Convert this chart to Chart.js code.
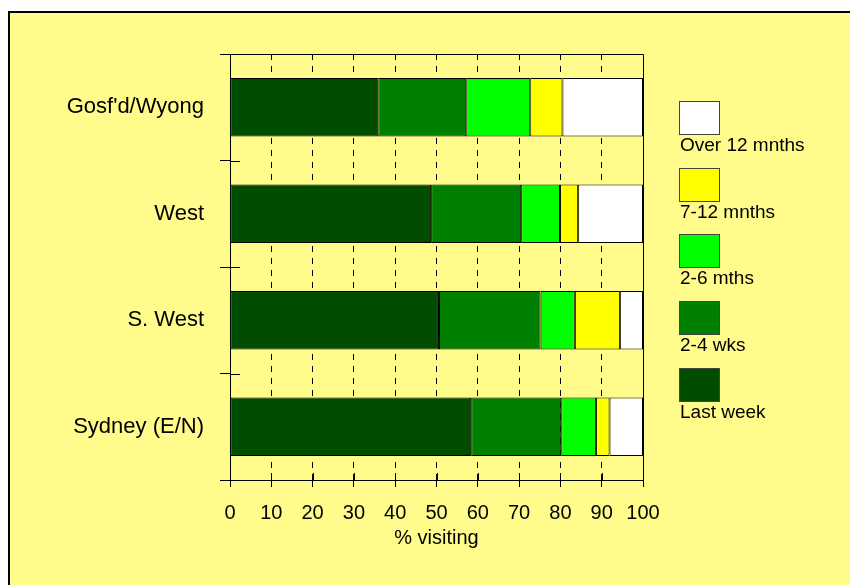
<!DOCTYPE html>
<html>
<head>
<meta charset="utf-8">
<script src="https://cdn.jsdelivr.net/npm/chart.js@4"></script>
<style>
  html, body { margin: 0; padding: 0; background: #fff; overflow: hidden; }
  #frame { position: absolute; left: 8px; top: 11px; width: 900px; height: 700px;
           border: 2px solid #000; background: #fffc8c; }
  #wrap { position: absolute; left: 0; top: 0; width: 850px; height: 585px; }
</style>
</head>
<body>
<div id="frame"></div>
<div id="wrap"><canvas id="chart" width="850" height="585"></canvas></div>
<script>
// data (% of people, stacked to 100)
const categories = ["Gosf'd/Wyong", "West", "S. West", "Sydney (E/N)"]
const seriesNames = ["Last week", "2-4 wks", "2-6 mths", "7-12 mnths", "Over 12 mnths"]
const lastWeek = [35.9, 48.7, 50.6, 58.4]
const twoFourWks = [21.3, 21.8, 24.6, 21.8]
const twoSixMths = [15.5, 9.4, 8.3, 8.4]
const sevenTwelveMnths = [7.8, 4.4, 10.9, 3.3]
const over12Mnths = [19.5, 15.7, 5.6, 8.1]
const xTicks = [0, 10, 20, 30, 40, 50, 60, 70, 80, 90, 100]

const colours = ["#004d00", "#008000", "#00ff00", "#ffff00", "#ffffff"]
const values = [lastWeek, twoFourWks, twoSixMths, sevenTwelveMnths, over12Mnths]
const font = "'Liberation Sans', Arial, sans-serif"

// top/right edge of the plot and the inner half of the crossing ticks
const frameLines = {
  id: "frameLines",
  afterDatasetsDraw(chart) {
    const { ctx, chartArea: a, scales } = chart
    ctx.save()
    ctx.strokeStyle = "#000"
    ctx.lineWidth = 1
    ctx.beginPath()
    const top = Math.round(a.top) + 0.5
    const right = Math.round(scales.x.getPixelForValue(100)) + 0.5
    ctx.moveTo(a.left - 10, top)
    ctx.lineTo(right, top)
    ctx.lineTo(right, a.bottom)
    xTicks.forEach(v => {
      const px = Math.round(scales.x.getPixelForValue(v)) + 0.5
      ctx.moveTo(px, a.bottom)
      ctx.lineTo(px, a.bottom - 7)
    })
    for (let i = 0; i <= categories.length; i++) {
      const py = Math.round(scales.y.getPixelForValue(i - 0.5)) + 0.5
      ctx.moveTo(a.left, py)
      ctx.lineTo(a.left + 10, py)
    }
    ctx.stroke()
    ctx.restore()
  }
}

// legend: box with the label under it, top item = last series
const sideLegend = {
  id: "sideLegend",
  afterDraw(chart) {
    const ctx = chart.ctx
    const sets = chart.data.datasets.slice().reverse()
    ctx.save()
    ctx.font = "19px " + font
    ctx.textAlign = "left"
    ctx.textBaseline = "middle"
    sets.forEach((ds, i) => {
      const top = Math.round(101 + i * 66.7)
      ctx.fillStyle = ds.backgroundColor
      ctx.fillRect(679, top, 40, 33)
      ctx.strokeStyle = "#444"
      ctx.lineWidth = 1
      ctx.strokeRect(679.5, top + 0.5, 40, 33)
      ctx.fillStyle = "#000"
      ctx.fillText(ds.label, 680, top + 45)
    })
    ctx.restore()
  }
}

const datasets = seriesNames.map((name, i) => ({
  label: name,
  data: values[i],
  backgroundColor: colours[i],
  borderColor: "#000",
  borderWidth: 1,
  borderSkipped: false,
  categoryPercentage: 1,
  barPercentage: 0.55
}))

new Chart(document.getElementById("chart"), {
  type: "bar",
  data: { labels: categories, datasets: datasets },
  plugins: [frameLines, sideLegend],
  options: {
    responsive: false,
    devicePixelRatio: 1,
    animation: false,
    indexAxis: "y",
    layout: { padding: { left: 0, right: 207, top: 54, bottom: 35 } },
    plugins: { legend: { display: false }, tooltip: { enabled: false } },
    scales: {
      x: {
        stacked: true,
        min: 0,
        max: 100,
        afterFit(scale) { scale.height = 70 },
        afterBuildTicks(scale) { scale.ticks = xTicks.map(v => ({ value: v })) },
        ticks: { color: "#000", font: { family: font, size: 20 }, padding: 14, maxRotation: 0 },
        grid: {
          color: c => (c.tick && (c.tick.value === 0 || c.tick.value === 100)) ? "rgba(0,0,0,0)" : "#000",
          lineWidth: 1, tickLength: 7, tickColor: "#000"
        },
        border: { display: true, color: "#000", width: 1, dash: [6, 6] },
        title: { display: true, text: "% visiting", color: "#000", padding: 0,
                 font: { family: font, size: 20 } }
      },
      y: {
        stacked: true,
        afterFit(scale) { scale.width = 230 },
        ticks: { color: "#000", font: { family: font, size: 22 }, padding: 16 },
        grid: { offset: true, drawOnChartArea: false, tickLength: 10, tickColor: "#000" },
        border: { display: true, color: "#000", width: 1 }
      }
    }
  }
})
</script>
</body>
</html>
